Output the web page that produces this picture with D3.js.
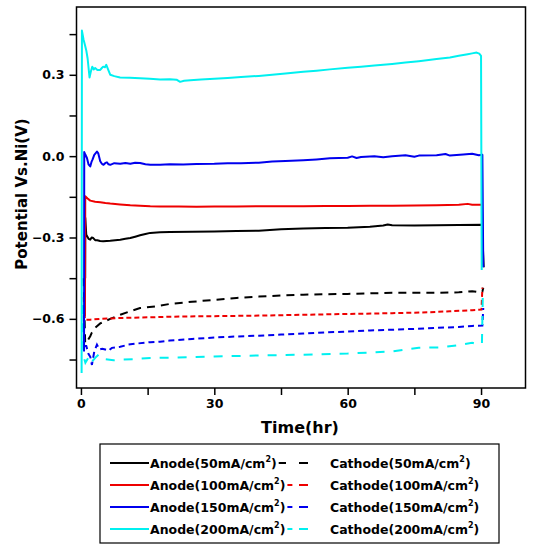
<!DOCTYPE html>
<html><head><meta charset="utf-8">
<script src="https://cdn.jsdelivr.net/npm/d3@7"></script>
<style>
body{margin:0;background:#fff;}
svg{display:block;}
text{font-family:"DejaVu Sans",sans-serif;font-weight:bold;fill:#000;}
</style></head>
<body>
<svg id="c" width="550" height="551"></svg>
<script>
// ---- data (time in hr, potential in V vs Ni) ----
const densities = ["50", "100", "150", "200"];
const xTicks = [0, 30, 60, 90];
const xMinor = [15, 45, 75];
const yTicks = [-0.6, -0.3, 0.0, 0.3];
const yMinor = [-0.75, -0.45, -0.15, 0.15, 0.45];

const anode50 = [[0.95,-0.45],[0.97,-0.227],[1.2,-0.29],[1.71,-0.305],[2.09,-0.308],[2.4,-0.3],[2.77,-0.302],[3.2,-0.31],[3.67,-0.31],[4.3,-0.313],[5.0,-0.314],[6.59,-0.312],[7.7,-0.31],[8.84,-0.308],[10,-0.305],[11.1,-0.302],[12.2,-0.297],[13.3,-0.292],[14.5,-0.287],[15.6,-0.283],[17.8,-0.281],[20,-0.28],[25,-0.279],[30,-0.278],[35,-0.276],[40,-0.275],[45,-0.27],[50,-0.267],[55,-0.265],[60,-0.264],[65,-0.26],[68,-0.256],[69,-0.252],[70,-0.255],[75,-0.256],[80,-0.255],[85,-0.254],[90.2,-0.253],[90.6,-0.41]];
const anode100 = [[0.9,-0.59],[0.97,-0.148],[1.5,-0.156],[2.09,-0.164],[3.2,-0.168],[4.34,-0.17],[5.5,-0.173],[6.59,-0.175],[8.8,-0.178],[11.1,-0.181],[13.3,-0.183],[15.6,-0.185],[17.8,-0.186],[22,-0.186],[26,-0.187],[30,-0.186],[35,-0.186],[40,-0.185],[45,-0.185],[50,-0.185],[55,-0.184],[60,-0.184],[65,-0.183],[70,-0.183],[75,-0.182],[80,-0.181],[85,-0.179],[87,-0.176],[88,-0.179],[90.2,-0.179],[90.4,-0.40]];
const anode150 = [[0.7,-0.72],[0.74,0.015],[1.0,0.005],[1.35,-0.007],[1.7,-0.03],[2.09,-0.038],[2.4,-0.02],[2.6,-0.013],[3.0,0.005],[3.6,0.017],[3.9,0.01],[4.34,-0.019],[4.7,-0.028],[5.08,-0.032],[5.5,-0.025],[5.85,-0.023],[6.2,-0.03],[6.59,-0.032],[7.5,-0.026],[8.84,-0.028],[10,-0.025],[11.1,-0.028],[12.2,-0.024],[13.3,-0.025],[14.5,-0.03],[15.6,-0.032],[17.8,-0.032],[20,-0.03],[23,-0.031],[26,-0.029],[30,-0.028],[33,-0.026],[36,-0.026],[40,-0.024],[43,-0.02],[46,-0.018],[50,-0.015],[53,-0.012],[56,-0.008],[60,-0.006],[61,-0.001],[62,-0.007],[63,-0.003],[66,0.0],[68,-0.004],[70,0.0],[73,0.003],[75,-0.002],[76,0.002],[80,0.003],[82,0.008],[83,0.002],[86,0.006],[88,0.009],[89.5,0.003],[90.3,0.005],[90.5,-0.41]];
const anode200 = [[0.15,-0.80],[0.22,0.463],[0.58,0.43],[0.9,0.41],[1.2,0.39],[1.5,0.36],[1.93,0.29],[2.2,0.31],[2.54,0.33],[2.9,0.32],[3.2,0.325],[3.7,0.318],[4.34,0.318],[4.7,0.325],[5.0,0.33],[5.4,0.328],[5.7,0.337],[6.1,0.32],[6.6,0.30],[7.5,0.295],[8.8,0.29],[11,0.289],[13.3,0.287],[15.5,0.285],[17.8,0.283],[20,0.284],[21.5,0.282],[22.3,0.274],[23.2,0.278],[24.6,0.28],[27,0.283],[30,0.285],[33,0.288],[36,0.292],[40,0.296],[43,0.30],[46,0.305],[50,0.311],[53,0.315],[56,0.32],[60,0.326],[63,0.33],[66,0.334],[70,0.34],[73,0.345],[76,0.35],[80,0.358],[83,0.364],[85,0.37],[87,0.376],[88,0.379],[89,0.382],[89.6,0.378],[90.0,0.37],[90.15,-0.42]];

const cathode50 = [[0.6,-0.45],[0.95,-0.69],[1.5,-0.68],[2.09,-0.664],[2.47,-0.65],[3.2,-0.633],[4.34,-0.617],[6.59,-0.60],[8.84,-0.585],[11.1,-0.572],[13.3,-0.56],[16.7,-0.554],[20,-0.545],[25,-0.537],[30,-0.53],[35,-0.523],[40,-0.518],[45,-0.514],[50,-0.511],[55,-0.509],[60,-0.508],[65,-0.506],[70,-0.504],[75,-0.504],[80,-0.504],[85,-0.502],[88,-0.498],[89.5,-0.502],[90.3,-0.50],[90.5,-0.485]];
const cathode100 = [[0.6,-0.52],[0.9,-0.603],[2.09,-0.603],[4.34,-0.60],[8.84,-0.597],[13.3,-0.595],[16.7,-0.594],[20,-0.592],[30,-0.59],[40,-0.588],[50,-0.585],[60,-0.582],[70,-0.579],[78,-0.576],[83,-0.572],[88,-0.568],[90.1,-0.566],[90.3,-0.485]];
const cathode150 = [[0.6,-0.55],[0.74,-0.70],[1.2,-0.70],[1.71,-0.73],[2.1,-0.74],[2.47,-0.77],[3.0,-0.72],[3.6,-0.695],[4.18,-0.713],[4.8,-0.71],[5.46,-0.713],[6.2,-0.717],[6.97,-0.707],[8.84,-0.703],[10.7,-0.695],[12.6,-0.691],[15.6,-0.686],[17.8,-0.684],[20,-0.68],[25,-0.674],[30,-0.669],[35,-0.665],[40,-0.662],[45,-0.658],[50,-0.654],[55,-0.65],[60,-0.647],[65,-0.643],[70,-0.64],[75,-0.637],[80,-0.633],[85,-0.63],[88,-0.626],[90.3,-0.625],[90.5,-0.56]];
const cathode200 = [[0.4,-0.55],[0.58,-0.738],[1.0,-0.762],[1.71,-0.742],[2.25,-0.762],[3.2,-0.744],[3.96,-0.732],[5.08,-0.748],[7.33,-0.753],[9.58,-0.75],[12.6,-0.748],[15.6,-0.744],[20,-0.743],[30,-0.739],[40,-0.735],[50,-0.732],[60,-0.728],[70,-0.72],[76,-0.707],[81,-0.705],[85,-0.697],[88,-0.688],[89.5,-0.696],[90.2,-0.69],[90.4,-0.51]];

// ---- styles ----
const colors = ["#000000", "#ee0000", "#0000ee", "#00f0f0"];
const dashes = ["8,6", "5,3", "6,4", "9,9"];
const anodes = [anode50, anode100, anode150, anode200];
const cathodes = [cathode50, cathode100, cathode150, cathode200];

const svg = d3.select("#c");
const L = 76.5, R = 525.5, T = 7, B = 388;
const x = d3.scaleLinear().domain([-1, 100]).range([L, R]);
const y = d3.scaleLinear().domain([-0.855, 0.55]).range([B, T]);

svg.append("rect").attr("width", 550).attr("height", 551).attr("fill", "#fff");

const line = d3.line().x(d => x(d[0])).y(d => y(d[1]));
const g = svg.append("g");
cathodes.forEach((s, i) => {
  g.append("path").attr("d", line(s)).attr("fill", "none")
    .attr("stroke", colors[i]).attr("stroke-width", 2).attr("stroke-dasharray", dashes[i]);
});
anodes.forEach((s, i) => {
  g.append("path").attr("d", line(s)).attr("fill", "none")
    .attr("stroke", colors[i]).attr("stroke-width", 2).attr("stroke-linejoin", "round");
});

// frame
svg.append("rect").attr("x", L).attr("y", T).attr("width", R - L).attr("height", B - T)
  .attr("fill", "none").attr("stroke", "#000").attr("stroke-width", 1.5);

// axes
const xAxis = svg.append("g").attr("transform", `translate(0,${B})`)
  .call(d3.axisBottom(x).tickValues(xTicks).tickSize(7).tickPadding(4).tickFormat(d3.format("d")));
svg.append("g").attr("transform", `translate(0,${B})`)
  .call(d3.axisBottom(x).tickValues(xMinor).tickSize(7).tickFormat(""));
const yAxis = svg.append("g").attr("transform", `translate(${L},0)`)
  .call(d3.axisLeft(y).tickValues(yTicks).tickSize(7).tickPadding(5).tickFormat(d3.format(".1f")));
svg.append("g").attr("transform", `translate(${L},0)`)
  .call(d3.axisLeft(y).tickValues(yMinor).tickSize(7).tickFormat(""));
svg.selectAll(".domain").remove();
svg.selectAll(".tick line").attr("stroke", "#000").attr("stroke-width", 1.5);
svg.selectAll(".tick text").style("font-family", "DejaVu Sans").style("font-weight", "bold")
  .style("font-size", "12.5px").attr("fill", "#000");

// axis titles
svg.append("text").attr("x", 300).attr("y", 433).attr("text-anchor", "middle")
  .style("font-size", "16px").text("Time(hr)");
svg.append("text").attr("transform", "translate(27,194) rotate(-90)").attr("text-anchor", "middle")
  .style("font-size", "15px").text("Potential Vs.Ni(V)");

// legend
svg.append("rect").attr("x", 100).attr("y", 444).attr("width", 399).attr("height", 99)
  .attr("fill", "#fff").attr("stroke", "#000").attr("stroke-width", 1.2);
densities.forEach((dn, i) => {
  const cy = 463 + i * 22;
  svg.append("line").attr("x1", 110).attr("x2", 149).attr("y1", cy).attr("y2", cy)
    .attr("stroke", colors[i]).attr("stroke-width", 2);
  const t1 = svg.append("text").attr("x", 150).attr("y", cy + 4.5).style("font-size", "12.5px");
  t1.append("tspan").text(`Anode(${dn}mA/cm`);
  t1.append("tspan").attr("dy", -6).style("font-size", "8px").text("2");
  t1.append("tspan").attr("dy", 6).text(")");
  const tEnd = 150 + t1.node().getComputedTextLength();
  const d1s = Math.max(277, tEnd + 2);
  const d1e = Math.max(286, d1s + 5);
  [[d1s, d1e], [299, 308]].forEach(([a, b]) => {
    svg.append("line").attr("x1", a).attr("x2", b).attr("y1", cy).attr("y2", cy)
      .attr("stroke", colors[i]).attr("stroke-width", 2);
  });
  const t2 = svg.append("text").attr("x", 330).attr("y", cy + 4.5).style("font-size", "12.5px");
  t2.append("tspan").text(`Cathode(${dn}mA/cm`);
  t2.append("tspan").attr("dy", -6).style("font-size", "8px").text("2");
  t2.append("tspan").attr("dy", 6).text(")");
});
</script>
</body></html>
